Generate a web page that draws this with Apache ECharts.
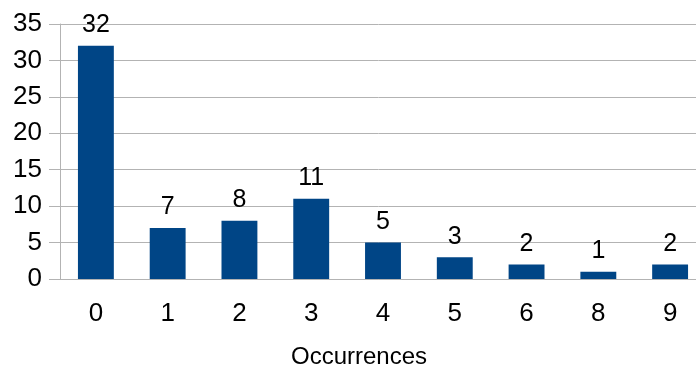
<!DOCTYPE html>
<html>
<head>
<meta charset="utf-8">
<script src="https://cdn.jsdelivr.net/npm/echarts@6/dist/echarts.min.js"></script>
<style>
  html, body { margin: 0; padding: 0; background: #fff; }
  #chart { width: 696px; height: 365px; }
</style>
</head>
<body>
<div id="chart"></div>
<script>
const categories = ['0', '1', '2', '3', '4', '5', '6', '8', '9'];
const counts = [32, 7, 8, 11, 5, 3, 2, 1, 2];
const yTicks = { min: 0, max: 35, step: 5 };

const chart = echarts.init(document.getElementById('chart'));
const gray = '#b3b3b3';
const font = 'Liberation Sans, Arial, sans-serif';

chart.setOption({
    animation: false,
    grid: { left: 60, right: -10, top: 24, bottom: 86, outerBoundsMode: 'none', containLabel: false },
    xAxis: {
        type: 'category',
        data: categories,
        name: 'Occurrences',
        nameLocation: 'middle',
        nameGap: 66,
        // the plot runs past the right edge, so the title sits left of the axis centre
        nameTextStyle: { color: '#000', fontSize: 24, fontFamily: font, padding: [0, 48, 0, 0] },
        axisLine: { lineStyle: { color: gray } },
        axisTick: { length: 11, lineStyle: { color: gray } },
        axisLabel: { color: '#000', fontSize: 26, fontFamily: font, margin: 22 }
    },
    yAxis: {
        type: 'value',
        min: yTicks.min,
        max: yTicks.max,
        interval: yTicks.step,
        axisLine: { show: true, lineStyle: { color: gray } },
        axisTick: { show: true, length: 11, lineStyle: { color: gray } },
        splitLine: { lineStyle: { color: gray } },
        axisLabel: { color: '#000', fontSize: 26, fontFamily: font, margin: 18 }
    },
    series: [{
        type: 'bar',
        data: counts,
        barWidth: '50%',
        itemStyle: { color: '#004586' },
        label: {
            show: true,
            position: 'top',
            distance: 8,
            color: '#000',
            fontSize: 25,
            fontFamily: font
        }
    }]
});
</script>
</body>
</html>
